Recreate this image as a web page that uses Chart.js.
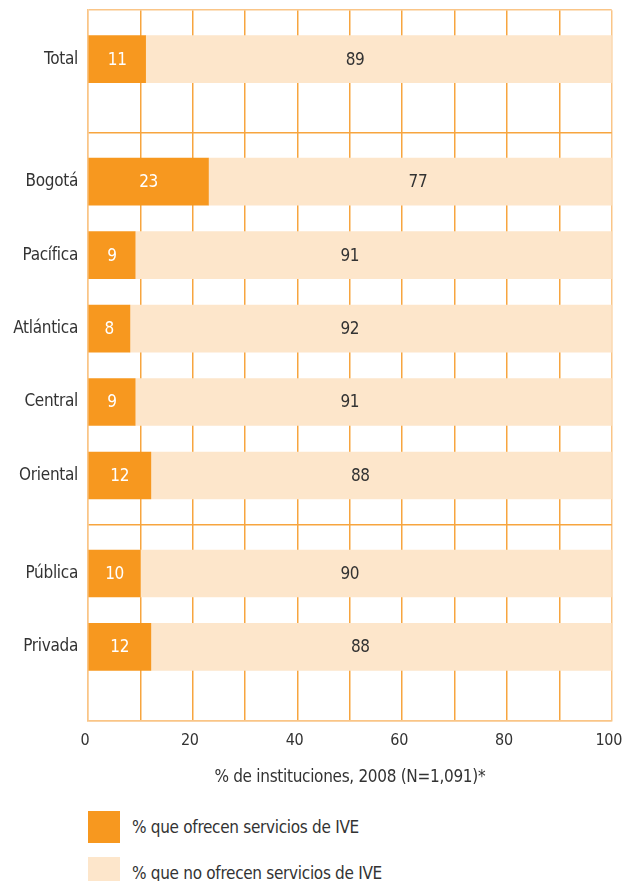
<!DOCTYPE html>
<html>
<head>
<meta charset="utf-8">
<script src="https://cdn.jsdelivr.net/npm/chart.js@4/dist/chart.umd.min.js"></script>
<style>
  html, body { margin: 0; padding: 0; background: #fff; }
  #wrap { position: relative; width: 623px; height: 881px; overflow: hidden; }
  canvas { position: absolute; left: 0; top: -10px; }
  #legend { position: absolute; left: 88px; top: 811px; font-family: "Liberation Sans Narrow", "DejaVu Sans Condensed", "Roboto", sans-serif; font-size: 17px; color: #333; letter-spacing: -0.3px; }
  .item { display: flex; align-items: center; height: 32px; margin-bottom: 14px; }
  .box { width: 32px; height: 32px; margin-right: 12px; flex: none; }
</style>
</head>
<body>
<div id="wrap">
  <canvas id="c" width="636" height="802"></canvas>
  <div id="legend"></div>
</div>
<script>
// ---- data ----
const categories = ['Total', 'Bogotá', 'Pacífica', 'Atlántica', 'Central', 'Oriental', 'Pública', 'Privada'];
const ofrecen    = [11, 23, 9, 8, 9, 12, 10, 12];
const noOfrecen  = [89, 77, 91, 92, 91, 88, 90, 88];
const seriesNames = ['% que ofrecen servicios de IVE', '% que no ofrecen servicios de IVE'];
const groups = [[0], [1, 2, 3, 4, 5], [6, 7]];
const xTickLabels = [0, 20, 40, 60, 80, 100];
const axisTitle = '% de instituciones, 2008 (N=1,091)*';

// ---- layout helpers (slot structure of the category axis) ----
const slotsBefore = 2, slotsBetween = 3, slotsAfter = [3, 2, 3];
const labels = [''], dA = [null], dB = [null], bounds = [0];
function blank() { labels.push(''); dA.push(null); dB.push(null); }
groups.forEach((g, gi) => {
  for (let k = 1; k < slotsBefore; k++) blank();
  g.forEach((ci, j) => {
    if (j > 0) for (let k = 1; k < slotsBetween; k++) blank();
    labels.push(categories[ci]); dA.push(ofrecen[ci]); dB.push(noOfrecen[ci]);
  });
  for (let k = 1; k < slotsAfter[gi]; k++) blank();
  bounds.push(labels.length); blank();
});

const FONT = '"Liberation Sans Narrow", "DejaVu Sans Condensed", "Roboto", sans-serif';
const FS = 17;
const ORANGE = '#F7981F';
const LIGHT = '#FDE6CB';
const GRID = '#F7A53F';
const EDGE = '#FAC587';
const TEXT = '#333333';

const tightText = {
  id: 'tightText',
  beforeUpdate(chart) { chart.ctx.letterSpacing = '-0.3px'; },
  beforeDraw(chart) { chart.ctx.letterSpacing = '-0.3px'; }
};

const valueLabels = {
  id: 'valueLabels',
  afterDatasetsDraw(chart) {
    const ctx = chart.ctx;
    const xs = chart.scales.x;
    ctx.save();
    ctx.font = FS + 'px ' + FONT;
    ctx.textAlign = 'center';
    ctx.textBaseline = 'middle';
    chart.data.datasets.forEach((ds, di) => {
      const meta = chart.getDatasetMeta(di);
      meta.data.forEach((el, i) => {
        const v = ds.data[i];
        if (v == null) return;
        let x;
        if (di === 0) { x = (el.x + el.base) / 2; ctx.fillStyle = '#ffffff'; }
        else { const start = dA[i]; x = xs.getPixelForValue(Math.max(50, start + 40)); ctx.fillStyle = TEXT; }
        ctx.fillText(String(v), x, el.y + 1);
      });
    });
    ctx.restore();
  }
};

const chart = new Chart(document.getElementById('c'), {
  type: 'bar',
  data: {
    labels: labels,
    datasets: [
      { label: seriesNames[0], data: dA, backgroundColor: ORANGE, barThickness: 47 },
      { label: seriesNames[1], data: dB, backgroundColor: LIGHT, barThickness: 47 }
    ]
  },
  options: {
    indexAxis: 'y',
    responsive: false,
    animation: false,
    devicePixelRatio: 1,
    layout: { padding: { top: 0, left: 0, right: 0, bottom: 4 } },
    plugins: { legend: { display: false }, tooltip: { enabled: false } },
    scales: {
      x: {
        type: 'linear', min: 0, max: 100, stacked: true,
        grid: {
          drawTicks: false,
          color: c => (c.tick && (c.tick.value === 0 || c.tick.value === 100)) ? EDGE : GRID,
          lineWidth: 1.5
        },
        border: { display: true, color: EDGE, width: 1.5 },
        ticks: {
          stepSize: 10, padding: 11, color: TEXT, font: { family: FONT, size: 16 },
          maxRotation: 0, autoSkip: false, labelOffset: -3,
          callback: v => xTickLabels.includes(v) ? String(v) : ''
        },
        title: { display: true, text: axisTitle, color: TEXT, font: { family: FONT, size: FS }, padding: { top: 6, bottom: 0 } }
      },
      y: {
        type: 'category', offset: false, stacked: true,
        grid: {
          offset: false, drawTicks: false,
          color: c => bounds.includes(c.index) ? ((c.index === 0 || c.index === labels.length - 1) ? EDGE : GRID) : 'rgba(0,0,0,0)',
          lineWidth: 1.5
        },
        border: { display: true, color: EDGE, width: 1.5 },
        ticks: { autoSkip: false, padding: 10, color: TEXT, font: { family: FONT, size: FS } },
        afterFit: s => { s.width = 88; }
      }
    }
  },
  plugins: [tightText, valueLabels]
});

// HTML legend built from the chart's datasets
const lg = document.getElementById('legend');
chart.data.datasets.forEach(ds => {
  const it = document.createElement('div'); it.className = 'item';
  const b = document.createElement('span'); b.className = 'box'; b.style.background = ds.backgroundColor;
  const t = document.createElement('span'); t.textContent = ds.label;
  it.appendChild(b); it.appendChild(t); lg.appendChild(it);
});
</script>
</body>
</html>
